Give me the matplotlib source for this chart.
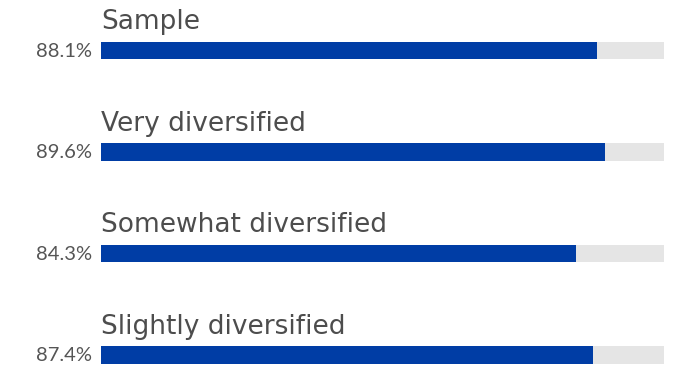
import matplotlib
matplotlib.use("Agg")
import matplotlib.pyplot as plt

categories = ["Sample", "Very diversified", "Somewhat diversified", "Slightly diversified"]
values = [88.1, 89.6, 84.3, 87.4]

BLUE = "#003da5"
TRACK = "#e5e5e5"
TEXT = "#4d4d4d"

fig = plt.figure(figsize=(6.83, 3.70), dpi=100)
# axes spans the bar track horizontally, full height of the figure
ax = fig.add_axes([101 / 683, 0, 563 / 683, 1])
ax.set_xlim(0, 100)
row_px = 101.5
ax.set_ylim((370 - 50.5) / row_px, -50.5 / row_px)
ax.axis("off")

bar_h = 17.5 / row_px
rows = range(len(categories))
ax.barh(rows, [100] * len(values), height=bar_h, color=TRACK, zorder=1)
ax.barh(rows, values, height=bar_h, color=BLUE, zorder=2)

for i, (cat, v) in enumerate(zip(categories, values)):
    ax.text(0, i - 0.21, cat, ha="left", va="baseline", fontsize=19,
            family="DejaVu Sans", color=TEXT, clip_on=False)
    ax.text(-1.6, i + 0.005, f"{v:.1f}%", ha="right", va="center", fontsize=14.5,
            family="Lato", fontweight="normal", color="#555555", clip_on=False)

fig.savefig("out.png", dpi=100)
